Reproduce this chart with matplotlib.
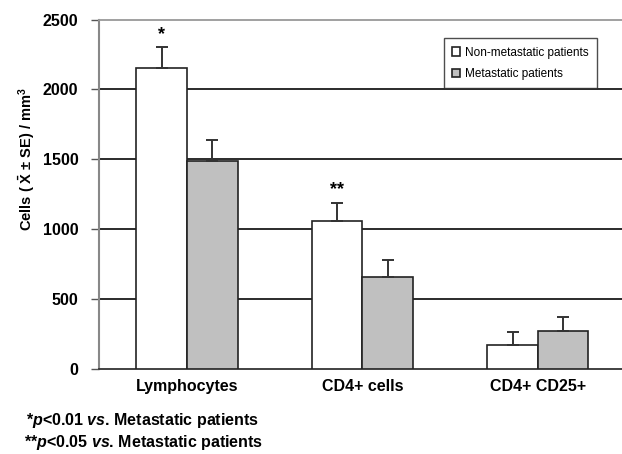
import matplotlib
matplotlib.use("Agg")
import matplotlib.pyplot as plt
import numpy as np

categories = ["Lymphocytes", "CD4+ cells", "CD4+ CD25+"]
non_metastatic = [2155, 1060, 175]
non_metastatic_se = [148, 130, 88]
metastatic = [1490, 658, 272]
metastatic_se = [145, 125, 103]
series_labels = ["Non-metastatic patients", "Metastatic patients"]
significance = ["*", "**", ""]
yticks = [0, 500, 1000, 1500, 2000, 2500]
footnotes = [r"*$\mathit{p}$<0.01 $\mathit{vs}$. Metastatic patients",
             r"**$\mathit{p}$<0.05 $\mathit{vs}$. Metastatic patients"]

plt.rcParams["font.family"] = ["Liberation Sans", "DejaVu Sans"]
plt.rcParams["mathtext.fontset"] = "custom"
plt.rcParams["mathtext.rm"] = "Liberation Sans:bold"
plt.rcParams["mathtext.it"] = "Liberation Sans:italic:bold"
plt.rcParams["mathtext.bf"] = "Liberation Sans:bold"

W, H = 622, 454
fig = plt.figure(figsize=(W / 100, H / 100), dpi=100)
left_px, right_px, top_px, bot_px = 99.3, 625.5, 19.5, 369
ax = fig.add_axes([left_px / W, (H - bot_px) / H, (right_px - left_px) / W, (bot_px - top_px) / H])

x = np.arange(len(categories))
w = 0.288
edge = "#222222"
ax.bar(x - w / 2, non_metastatic, w, color="white", edgecolor=edge, linewidth=1.2,
       label=series_labels[0], zorder=3)
ax.bar(x + w / 2, metastatic, w, color="#c0c0c0", edgecolor=edge, linewidth=1.2,
       label=series_labels[1], zorder=3)
ax.errorbar(x - w / 2, non_metastatic, yerr=[np.zeros(3), non_metastatic_se], fmt="none",
            ecolor="#333333", elinewidth=1.4, capsize=4, capthick=1.4, zorder=4)
ax.errorbar(x + w / 2, metastatic, yerr=[np.zeros(3), metastatic_se], fmt="none",
            ecolor="#333333", elinewidth=1.4, capsize=4, capthick=1.4, zorder=4)

for xi, v, se, s in zip(x - w / 2, non_metastatic, non_metastatic_se, significance):
    if s:
        ax.text(xi, v + se + 30, s, ha="center", va="bottom", fontsize=13, fontweight="bold")

ax.set_xlim(-0.5, 2.5)
ax.set_ylim(0, 2500)
ax.set_yticks(yticks)
ax.set_yticklabels([str(t) for t in yticks], fontsize=11.5, fontweight="bold")
for t in yticks[1:-1]:
    ax.axhline(t, color="#1a1a1a", lw=1.3, zorder=1)
ax.set_xticks(x)
ax.set_xticklabels(categories, fontsize=11.5, fontweight="bold")
ax.tick_params(axis="x", length=0, pad=7)
ax.tick_params(axis="y", length=6, width=1, color="#555555", pad=9, direction="out")

ax.spines["left"].set_color("#888888")
ax.spines["left"].set_linewidth(1.5)
ax.spines["top"].set_color("#999999")
ax.spines["top"].set_linewidth(1.3)
ax.spines["right"].set_color("#999999")
ax.spines["bottom"].set_color("#333333")
ax.spines["bottom"].set_linewidth(1.3)

fig.text(27 / W, 1 - 159 / H, r"Cells ( $\bar{\mathrm{X}}$ ± SE) / mm$^{\mathrm{3}}$",
         rotation=90, ha="center", va="center", fontsize=10.5, fontweight="bold")

leg = ax.legend(loc="upper right", bbox_to_anchor=(0.957, 0.963), fontsize=8.5,
                frameon=True, fancybox=False, edgecolor="#222222", handlelength=0.7,
                handleheight=0.7, handletextpad=0.4, borderpad=0.7, labelspacing=0.8)
leg.get_frame().set_linewidth(1.0)
leg.set_zorder(5)

fig.text(26 / W, 1 - 420 / H, footnotes[0], ha="left", va="center", fontsize=11.5, fontweight="bold")
fig.text(24 / W, 1 - 442 / H, footnotes[1], ha="left", va="center", fontsize=11.5, fontweight="bold")

fig.savefig("out.png", dpi=100)
